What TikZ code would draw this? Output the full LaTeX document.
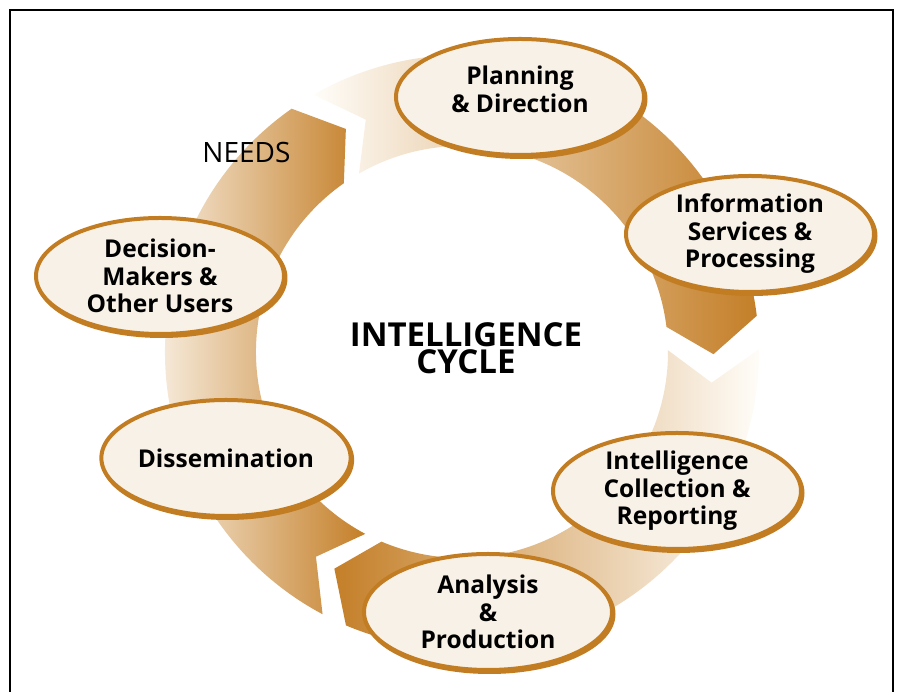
\documentclass[tikz,border=0pt]{standalone}
\usepackage{fontspec}
\setmainfont{Open Sans}
\usetikzlibrary{shapes.geometric,shadows}
\definecolor{ringdark}{RGB}{196,127,40}
\definecolor{ringlight}{RGB}{255,253,249}
\definecolor{stageedge}{RGB}{194,124,34}
\definecolor{stagefill}{RGB}{248,241,231}

\tikzset{
  stage/.style={ellipse, draw=stageedge, line width=4pt, fill=stagefill,
    minimum width=248pt, minimum height=116pt, inner sep=0pt, align=center,
    font=\bfseries\fontsize{24.5}{27.5}\selectfont,
    drop shadow={shadow xshift=1.5pt, shadow yshift=-2pt, opacity=1,
      fill=stageedge, draw=stageedge, line width=4pt}}
}

\begin{document}
\begin{tikzpicture}[x=1pt,y=1pt]

\useasboundingbox (-462,352) rectangle (436,-340);
\draw [line width=2pt] (-452,342) rectangle (431,-360);

\shade [left color=ringlight, right color=ringdark]
  (120:297) -- (112.5:251.5) -- (120:206) arc[start angle=120, end angle=7, radius=206]
  -- (-0.5:251.5) -- (7:297) arc[start angle=7, end angle=120, radius=297] -- cycle;
\shade [left color=ringdark, right color=ringlight]
  (0.5:297) -- (-7:251.5) -- (0.5:206) arc[start angle=0.5, end angle=-113, radius=206]
  -- (-120.5:251.5) -- (-113:297) arc[start angle=-113, end angle=0.5, radius=297] -- cycle;
\shade [left color=ringlight, right color=ringdark]
  (-118:297) -- (-125.5:251.5) -- (-118:206) arc[start angle=-118, end angle=-235, radius=206]
  -- (-242.5:251.5) -- (-235:297) arc[start angle=-235, end angle=-118, radius=297] -- cycle;

\node [stage, text depth=16pt] (plan) at (58,255) {Planning\\\& Direction};
\node [stage] (info) at (288,118) {Information\\Services \&\\Processing};
\node [stage] (collect) at (215,-139) {Intelligence\\Collection \&\\Reporting};
\node [stage] (analysis) at (26,-260) {Analysis\\\&\\Production};
\node [stage] (dissem) at (-236,-106) {Dissemination};
\node [stage] (users) at (-302,76) {Decision-\\Makers \&\\Other Users};

\node [align=center, font=\bfseries\fontsize{33}{26.5}\selectfont] (title) at (4,4) {INTELLIGENCE\\CYCLE};
\node [font=\fontsize{28}{30}\selectfont] (needs) at (-215.5,199) {NEEDS};
\end{tikzpicture}
\end{document}
